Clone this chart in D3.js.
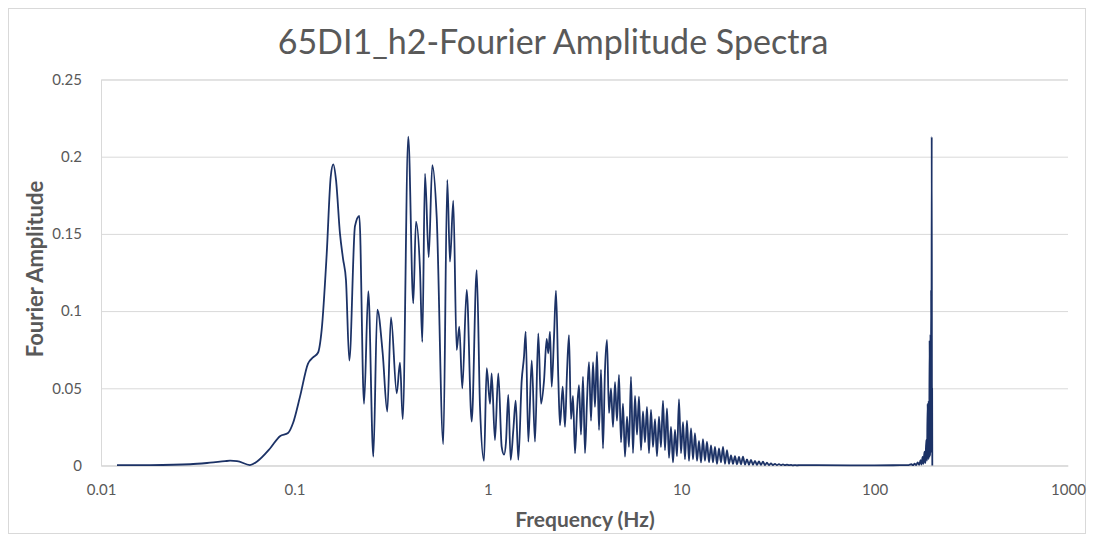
<!DOCTYPE html>
<html>
<head>
<meta charset="utf-8">
<script src="https://cdn.jsdelivr.net/npm/d3@7"></script>
<style>
  html, body { margin: 0; padding: 0; background: #ffffff; }
  svg { display: block; }
  text { font-family: Lato, "Open Sans", sans-serif; }
</style>
</head>
<body>
<svg id="chart" width="1094" height="541"></svg>
<script>
// ---- data ----
const chartTitle = "65DI1_h2-Fourier Amplitude Spectra";
const xAxisTitle = "Frequency (Hz)";
const yAxisTitle = "Fourier Amplitude";
const xTickValues = [0.01, 0.1, 1, 10, 100, 1000];
const xTickLabels = ["0.01", "0.1", "1", "10", "100", "1000"];
const yTickValues = [0, 0.05, 0.1, 0.15, 0.2, 0.25];
const yTickLabels = ["0", "0.05", "0.1", "0.15", "0.2", "0.25"];

const frequency = [
  // 0.01 – 1 Hz
  0.0121, 0.0179, 0.0289, 0.0366, 0.0438, 0.0465, 0.0505, 0.0589, 0.0639, 0.0748,
  0.0842, 0.0927, 0.0984, 0.1069, 0.1176, 0.1248, 0.1324, 0.1384, 0.1469, 0.1541,
  0.1589, 0.1641, 0.1721, 0.1784, 0.1848, 0.1923, 0.2057, 0.2166, 0.2291, 0.2411,
  0.2559, 0.2683, 0.2861, 0.3021, 0.3158, 0.3381, 0.3516, 0.3631, 0.3880, 0.4118,
  0.4252, 0.4461, 0.4585, 0.4735, 0.4948, 0.5164, 0.5442, 0.5886, 0.6173, 0.6374,
  0.6630, 0.6904, 0.7121, 0.7380, 0.7777, 0.8255, 0.8762, 0.9114, 0.9556, 0.9870,
  // 1 – 2.5 Hz
  1.027, 1.047, 1.089, 1.133, 1.180, 1.213, 1.242, 1.276, 1.313, 1.355,
  1.394, 1.438, 1.497, 1.539, 1.570, 1.620, 1.687, 1.754, 1.824, 1.884,
  1.953, 2.016, 2.055, 2.097, 2.140, 2.199, 2.252, 2.314, 2.362, 2.439,
  // 2.5 – 41 Hz (dense band)
  2.507, 2.567, 2.629, 2.693, 2.757, 2.824, 2.892, 2.962, 3.033, 3.106,
  3.181, 3.258, 3.336, 3.417, 3.499, 3.583, 3.670, 3.758, 3.849, 3.941,
  4.036, 4.134, 4.233, 4.335, 4.440, 4.547, 4.656, 4.768, 4.883, 5.001,
  5.121, 5.245, 5.371, 5.500, 5.633, 5.768, 5.907, 6.050, 6.195, 6.345,
  6.498, 6.654, 6.815, 6.979, 7.147, 7.319, 7.496, 7.676, 7.861, 8.051,
  8.245, 8.443, 8.647, 8.855, 9.069, 9.287, 9.511, 9.740, 9.975, 10.22,
  10.46, 10.71, 10.97, 11.24, 11.51, 11.78, 12.07, 12.36, 12.66, 12.96,
  13.27, 13.59, 13.92, 14.26, 14.60, 14.95, 15.31, 15.68, 16.06, 16.45,
  16.84, 17.25, 17.66, 18.09, 18.52, 18.97, 19.43, 19.90, 20.37, 20.87,
  21.37, 21.88, 22.41, 22.95, 23.50, 24.07, 24.65, 25.24, 25.85, 26.47,
  27.11, 27.76, 28.43, 29.12, 29.82, 30.54, 31.27, 32.03, 32.80, 33.59,
  34.40, 35.22, 36.07, 36.94, 37.83, 38.74, 39.67, 40.63,
  // 41 – 200 Hz
  50.0, 74.6, 100.0, 135.3, 150.0, 155.0, 158.0, 161.0, 164.0, 167.0,
  170.0, 173.0, 175.0, 177.0, 179.0, 181.0, 183.0, 185.0, 186.5, 188.0,
  189.5, 190.5, 191.5, 192.5, 193.5, 194.5, 195.3, 196.0, 196.7, 197.4,
  198.0, 198.4, 198.8
];
const amplitude = [
  // 0.01 – 1 Hz
  0.0002, 0.0003, 0.0008, 0.0018, 0.0028, 0.0031, 0.0029, 0.0003, 0.0025, 0.011,
  0.019, 0.021, 0.0275, 0.0446, 0.066, 0.070, 0.073, 0.088, 0.137, 0.187,
  0.195, 0.185, 0.150, 0.134, 0.120, 0.068, 0.155, 0.1616, 0.040, 0.113,
  0.0057, 0.101, 0.0727, 0.0349, 0.096, 0.0468, 0.0666, 0.030, 0.213, 0.105,
  0.158, 0.1266, 0.080, 0.189, 0.135, 0.1946, 0.161, 0.0139, 0.185, 0.132,
  0.1715, 0.0748, 0.090, 0.050, 0.1137, 0.0284, 0.1266, 0.038, 0.003, 0.063,
  // 1 – 2.5 Hz
  0.040, 0.0597, 0.0165, 0.0597, 0.012, 0.007, 0.0154, 0.0457, 0.0036, 0.023,
  0.042, 0.0036, 0.055, 0.0705, 0.0867, 0.0154, 0.068, 0.0154, 0.0856, 0.040,
  0.055, 0.082, 0.0727, 0.0867, 0.051, 0.083, 0.1132, 0.0575, 0.026, 0.051,
  // 2.5 – 41 Hz
  0.025, 0.060, 0.0845, 0.030, 0.045, 0.0079, 0.035, 0.052, 0.020, 0.0575,
  0.008, 0.042, 0.067, 0.029, 0.067, 0.038, 0.0737, 0.023, 0.062, 0.011,
  0.062, 0.0813, 0.034, 0.050, 0.025, 0.054, 0.029, 0.0586, 0.015, 0.040,
  0.0057, 0.0316, 0.012, 0.0575, 0.008, 0.045, 0.020, 0.0446, 0.010, 0.035,
  0.015, 0.038, 0.008, 0.036, 0.012, 0.030, 0.006, 0.0316, 0.012, 0.042,
  0.010, 0.037, 0.005, 0.025, 0.002, 0.023, 0.006, 0.043, 0.008, 0.028,
  0.004, 0.029, 0.003, 0.024, 0.004, 0.021, 0.003, 0.016, 0.002, 0.017,
  0.003, 0.0154, 0.002, 0.013, 0.002, 0.012, 0.001, 0.011, 0.002, 0.012,
  0.001, 0.010, 0.001, 0.0065, 0.001, 0.006, 0.0008, 0.0055, 0.0008, 0.0057,
  0.0006, 0.004, 0.0005, 0.0036, 0.0005, 0.003, 0.0004, 0.0027, 0.0004, 0.0025,
  0.0003, 0.0018, 0.0003, 0.0014, 0.0003, 0.0011, 0.0002, 0.0009, 0.0002, 0.0007,
  0.0002, 0.0005, 0.0002, 0.0004, 0.0001, 0.0003, 0.0001, 0.0002,
  // 41 – 200 Hz
  0.0002, 0.0001, 0.0001, 0.0002, 0.0003, 0.0008, 0.0002, 0.0012, 0.0003, 0.0020,
  0.0004, 0.0035, 0.0006, 0.0055, 0.0010, 0.0090, 0.0015, 0.0165, 0.0030, 0.040,
  0.0040, 0.042, 0.0050, 0.081, 0.0060, 0.085, 0.0080, 0.1137, 0.010, 0.213,
  0.020, 0.050, 0.0
];

// ---- layout ----
const W = 1094, H = 541;
const plot = { left: 101, right: 1068, top: 79.5, bottom: 465.5 };
const gridColor = "#d9d9d9";
const textColor = "#595959";
const lineColor = "#1c3266";

const svg = d3.select("#chart");

svg.append("rect")
  .attr("x", 0).attr("y", 0).attr("width", W).attr("height", H)
  .attr("fill", "#ffffff");
svg.append("rect")
  .attr("x", 8.5).attr("y", 8.5).attr("width", W - 17).attr("height", H - 16)
  .attr("fill", "none").attr("stroke", gridColor).attr("stroke-width", 1);

const x = d3.scaleLog().domain([0.01, 1000]).range([plot.left, plot.right]);
const y = d3.scaleLinear().domain([0, 0.25]).range([plot.bottom, plot.top]);

// horizontal gridlines + y labels
const yAxis = d3.axisLeft(y)
  .tickValues(yTickValues)
  .tickSize(-(plot.right - plot.left))
  .tickPadding(19)
  .tickFormat((d, i) => yTickLabels[i]);
const gy = svg.append("g")
  .attr("transform", `translate(${plot.left},0)`)
  .call(yAxis);
gy.select(".domain").attr("stroke", gridColor);
gy.selectAll(".tick line").attr("stroke", gridColor).attr("stroke-width", 1);
gy.selectAll(".tick text")
  .attr("fill", textColor).style("font-size", "15px");

// x axis labels
const xAxis = d3.axisBottom(x)
  .tickValues(xTickValues)
  .tickSize(0)
  .tickPadding(19)
  .tickFormat((d, i) => xTickLabels[i]);
const gx = svg.append("g")
  .attr("transform", `translate(0,${plot.bottom})`)
  .call(xAxis);
gx.select(".domain").attr("stroke", gridColor);
gx.selectAll(".tick text")
  .attr("fill", textColor).style("font-size", "15px");

// data line
const data = frequency.map((f, i) => ({ f, a: amplitude[i] }));
const line = d3.line()
  .x(d => x(d.f))
  .y(d => y(d.a))
  .curve(d3.curveMonotoneX);
svg.append("path")
  .datum(data)
  .attr("d", line)
  .attr("fill", "none")
  .attr("stroke", lineColor)
  .attr("stroke-width", 1.8)
  .attr("stroke-linejoin", "round");

// titles
svg.append("text")
  .attr("x", 553).attr("y", 54)
  .attr("text-anchor", "middle")
  .attr("fill", textColor)
  .style("font-size", "34px")
  .text(chartTitle);

svg.append("text")
  .attr("x", 585).attr("y", 527)
  .attr("text-anchor", "middle")
  .attr("fill", textColor)
  .style("font-size", "21px")
  .style("font-weight", "bold")
  .text(xAxisTitle);

svg.append("text")
  .attr("transform", `translate(43,269) rotate(-90)`)
  .attr("text-anchor", "middle")
  .attr("fill", textColor)
  .style("font-size", "22px")
  .style("font-weight", "bold")
  .text(yAxisTitle);
</script>
</body>
</html>
